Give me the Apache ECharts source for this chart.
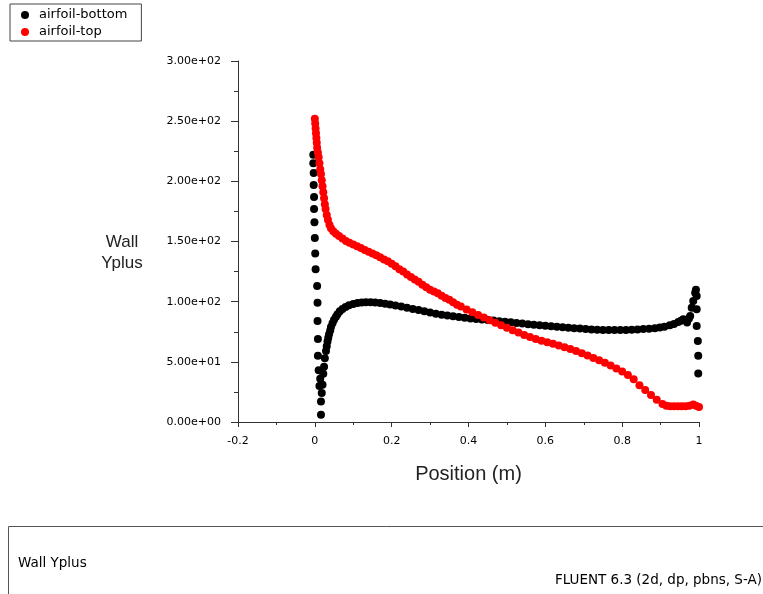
<!DOCTYPE html>
<html>
<head>
<meta charset="utf-8">
<script src="https://cdn.jsdelivr.net/npm/echarts@6/dist/echarts.min.js"></script>
<style>
html,body{margin:0;padding:0;background:#fff;}
#chart{width:763px;height:594px;}
</style>
</head>
<body>
<div id="chart"></div>
<script>
// ---- data ----
const seriesNames = ['airfoil-bottom', 'airfoil-top'];
const xTicks = { min: -0.2, max: 1, interval: 0.2 };
const yTicks = { min: 0, max: 300, interval: 50 };

const bottomPts = [
  [-0.004,222],[-0.004,215],[-0.003,207],[-0.003,197],[-0.002,187],[-0.002,177],[-0.001,166],[0.000,153],[0.001,140],[0.002,127],
  [0.006,113],[0.007,99],[0.007,84],[0.008,69],[0.008,55],[0.010,43],[0.012,30],[0.016,17],[0.016,6],
  [0.014,36],[0.018,24],[0.020,31],[0.022,40],[0.024,46],[0.026,53],[0.029,59],[0.031,63],[0.033,67],[0.035,70],[0.037,73],
  [0.040,76],[0.042,79],[0.046,82],[0.050,85],[0.055,87.5],[0.059,89.5],[0.065,92],[0.072,94],[0.080,95.5],[0.089,97],
  [0.100,98],[0.111,98.8],[0.122,99.4],[0.133,99.6],[0.145,99.6],[0.157,99.4],[0.170,98.8],[0.183,98.2],[0.196,97.6],
  [0.210,96.8],[0.225,96],[0.240,95],[0.255,94],[0.270,93],[0.285,92],[0.300,91],[0.315,90],[0.330,89.2],[0.345,88.5],
  [0.360,87.9],[0.375,87.3],[0.390,86.7],[0.405,86.1],[0.420,85.6],[0.435,85.1],[0.450,84.7],[0.465,84.3],[0.480,83.8],
  [0.495,83.3],[0.510,82.8],[0.525,82.3],[0.540,81.8],[0.555,81.3],[0.570,80.8],[0.585,80.3],[0.600,79.9],[0.615,79.5],
  [0.630,79.2],[0.645,78.8],[0.660,78.4],[0.675,78],[0.690,77.6],[0.705,77.2],[0.720,76.9],[0.735,76.7],[0.750,76.5],
  [0.765,76.4],[0.780,76.4],[0.795,76.4],[0.810,76.5],[0.825,76.7],[0.840,76.9],[0.855,77.2],[0.870,77.5],[0.885,78],
  [0.898,78.5],[0.910,79.2],[0.924,80.4],[0.935,81.5],[0.946,83],[0.953,84.2],[0.959,85.4],[0.969,82.6],[0.974,86],
  [0.977,88],[0.981,95],[0.985,100.5],[0.990,107.5],[0.992,110],[0.994,104.7],[0.994,93.6],[0.994,79.8],[0.997,67.4],
  [0.998,55],[0.998,40.4]
];

const topPts = [
  [0.000,252],[0.001,248],[0.002,244],[0.003,240],[0.004,236],[0.005,232],[0.006,228],[0.008,224],[0.010,220],[0.012,215],
  [0.014,210],[0.016,206],[0.018,201],[0.020,196],[0.022,191],[0.024,186],[0.026,181],[0.028,177],[0.031,172],[0.034,168],
  [0.038,164],[0.042,161],[0.048,158.5],[0.055,156.5],[0.063,154.5],[0.072,152.5],[0.081,150.5],[0.090,149],[0.100,147.5],
  [0.110,146],[0.120,144.5],[0.130,143],[0.140,141.5],[0.150,140],[0.160,138.5],[0.170,137],[0.180,135],[0.190,133.5],
  [0.200,131.5],[0.210,129.5],[0.220,127],[0.230,125],[0.240,122.5],[0.250,120.5],[0.260,118.5],[0.270,116.5],[0.280,114],
  [0.290,112],[0.300,110],[0.310,108.5],[0.320,107],[0.330,105],[0.340,103],[0.350,101.5],[0.360,99.5],[0.370,97.5],
  [0.380,96],[0.395,93.5],[0.410,91.2],[0.425,89],[0.440,86.8],[0.455,84.6],[0.470,82.5],[0.485,80.4],[0.500,78.3],
  [0.515,76.3],[0.530,74.3],[0.545,72.4],[0.560,70.6],[0.575,69],[0.590,67.5],[0.605,66.2],[0.620,65],[0.635,63.6],
  [0.650,62.2],[0.665,60.7],[0.680,59.1],[0.695,57.2],[0.710,55.2],[0.725,53.2],[0.740,51.3],[0.755,49.2],[0.770,47],
  [0.785,44.5],[0.800,42],[0.815,39],[0.830,35.5],[0.845,30.5],[0.860,26.5],[0.875,22.5],[0.890,18.5],[0.905,15],
  [0.915,13.5],[0.925,13],[0.935,13],[0.945,13],[0.955,13],[0.965,13],[0.975,13.5],[0.985,14.5],[0.992,13.5],[1.000,12.5]
];

const xAxisTitle = 'Position (m)';
const yAxisTitle = 'Wall\nYplus';
const footerLeft = 'Wall Yplus';
const footerRight = 'FLUENT 6.3 (2d, dp, pbns, S-A)';

function sciLabel(v) {
  if (v === 0) return '0.00e+00';
  const e = Math.floor(Math.log10(Math.abs(v)));
  const m = v / Math.pow(10, e);
  return m.toFixed(2) + 'e' + (e < 0 ? '-' : '+') + (Math.abs(e) < 10 ? '0' : '') + Math.abs(e);
}

const chart = echarts.init(document.getElementById('chart'), null, { renderer: 'canvas' });
const axisColor = '#333';
chart.setOption({
  animation: false,
  backgroundColor: '#fff',
  legend: {
    orient: 'vertical',
    left: 10, top: 4,
    padding: [4, 14, 2, 11],
    borderColor: '#444', borderWidth: 1,
    itemWidth: 18, itemHeight: 8, itemGap: 3,
    icon: 'circle',
    textStyle: { fontFamily: 'DejaVu Sans', fontSize: 13, lineHeight: 14, color: '#000' },
    data: seriesNames
  },
  grid: { left: 238, right: 64, top: 61, bottom: 172, containLabel: false },
  xAxis: {
    type: 'value',
    min: xTicks.min, max: xTicks.max, interval: xTicks.interval,
    name: xAxisTitle, nameLocation: 'middle', nameGap: 42,
    nameTextStyle: { fontFamily: 'Liberation Sans', fontSize: 20, color: '#222' },
    axisLine: { show: true, onZero: false, lineStyle: { color: axisColor, width: 1 } },
    axisTick: { show: true, inside: false, length: 5, lineStyle: { color: axisColor } },
    minorTick: { show: true, splitNumber: 2, length: 3, lineStyle: { color: axisColor } },
    splitLine: { show: false },
    axisLabel: { margin: 14, fontFamily: 'DejaVu Sans', fontSize: 11, color: '#000',
      formatter: v => String(Math.round(v * 10) / 10) }
  },
  yAxis: {
    type: 'value',
    min: yTicks.min, max: yTicks.max, interval: yTicks.interval,
    axisLine: { show: true, onZero: false, lineStyle: { color: axisColor, width: 1 } },
    axisTick: { show: true, inside: false, length: 7, lineStyle: { color: axisColor } },
    minorTick: { show: true, splitNumber: 2, length: 4, lineStyle: { color: axisColor } },
    splitLine: { show: false },
    axisLabel: { margin: 17, fontFamily: 'DejaVu Sans', fontSize: 11, color: '#000', formatter: sciLabel }
  },
  graphic: [
    { type: 'text', x: 122, y: 253, style: { text: yAxisTitle, fontFamily: 'Liberation Sans', fontSize: 17, lineHeight: 21, fill: '#222', align: 'center', verticalAlign: 'middle' } },
    { type: 'rect', shape: { x: 8.5, y: 526.5, width: 780, height: 100 }, style: { fill: 'none', stroke: '#555', lineWidth: 1 } },
    { type: 'text', x: 18, y: 563, style: { text: footerLeft, fontFamily: 'DejaVu Sans', fontSize: 13.5, fill: '#000', align: 'left', verticalAlign: 'middle' } },
    { type: 'text', x: 762, y: 580, style: { text: footerRight, fontFamily: 'DejaVu Sans', fontSize: 13.5, fill: '#000', align: 'right', verticalAlign: 'middle' } }
  ],
  series: [
    { name: seriesNames[0], type: 'scatter', symbol: 'circle', symbolSize: 8,
      itemStyle: { color: '#000000', opacity: 1 }, data: bottomPts, z: 2 },
    { name: seriesNames[1], type: 'scatter', symbol: 'circle', symbolSize: 8,
      itemStyle: { color: '#ff0000', opacity: 1 }, data: topPts, z: 3 }
  ]
});
</script>
</body>
</html>
